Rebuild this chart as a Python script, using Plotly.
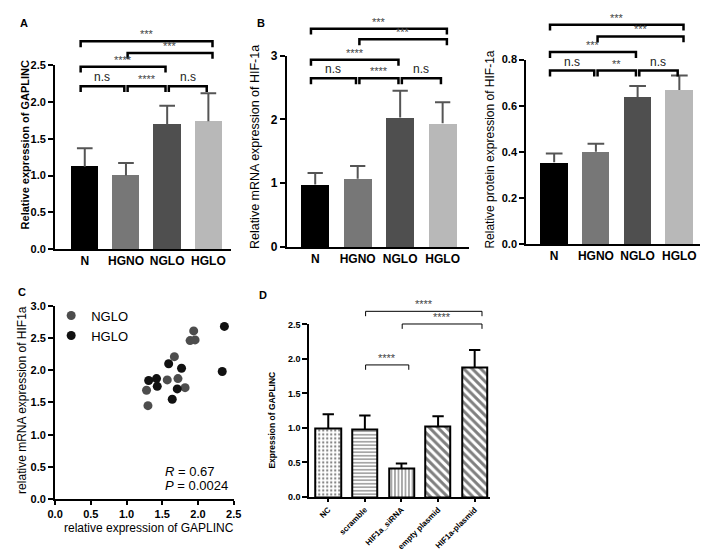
import plotly.graph_objects as go

W, H = 709, 554
FONT = "Liberation Sans, Arial, sans-serif"


def fx(px):
    return px / W


def fy(py):
    return 1 - py / H


# ---------------- data ----------------
groups = ["N", "HGNO", "NGLO", "HGLO"]
bar_colors = ["#000000", "#777777", "#4f4f4f", "#b8b8b8"]

gaplinc_mean = [1.12, 1.00, 1.69, 1.74]
gaplinc_err = [0.25, 0.17, 0.26, 0.38]

mrna_mean = [0.98, 1.07, 2.03, 1.94]
mrna_err = [0.18, 0.20, 0.42, 0.33]

protein_mean = [0.355, 0.400, 0.638, 0.668]
protein_err = [0.038, 0.035, 0.047, 0.063]

nglo_x = [1.28, 1.30, 1.57, 1.67, 1.72, 1.82, 1.89, 1.94, 1.96]
nglo_y = [1.69, 1.45, 1.85, 2.21, 1.87, 1.73, 2.46, 2.61, 2.47]
hglo_x = [1.31, 1.42, 1.43, 1.59, 1.64, 1.71, 1.77, 2.34, 2.37]
hglo_y = [1.84, 1.87, 1.75, 2.10, 1.55, 1.71, 2.03, 1.98, 2.68]

d_groups = ["NC", "scramble", "HIF1a_siRNA", "empty plasmid", "HIF1a-plasmid"]
d_mean = [1.00, 0.98, 0.41, 1.02, 1.88]
d_err = [0.20, 0.20, 0.075, 0.15, 0.25]
d_patterns = [".", "-", "|", "\\", "\\"]

# significance brackets: (group i, group j, label)
sig_a = [(0, 3, "***"), (1, 3, "***"), (0, 2, "****"), (0, 1, "n.s"), (1, 2, "****"), (2, 3, "n.s")]
sig_b = [(0, 3, "***"), (1, 3, "***"), (0, 2, "****"), (0, 1, "n.s"), (1, 2, "****"), (2, 3, "n.s")]
sig_p = [(0, 3, "***"), (1, 3, "***"), (0, 2, "***"), (0, 1, "n.s"), (1, 2, "**"), (2, 3, "n.s")]
sig_d = [(1, 4, "****"), (2, 4, "****"), (1, 2, "****")]

# bracket line heights in pixels from top (layout)
lev_a = [27, 39, 53, 73, 73, 73]
lev_b = [14, 25, 46, 65, 65, 65]
lev_p = [10, 22, 38, 57, 57, 57]
lev_d = [304, 317, 359]

fig = go.Figure()


def err_lines(means, errs, cap):
    xs, ys = [], []
    for i, (m, e) in enumerate(zip(means, errs)):
        xs += [i, i, None, i - cap, i + cap, None]
        ys += [m, m + e, None, m + e, m + e, None]
    return xs, ys


def add_bar_panel(xa, ya, means, errs, cap, colors, ecolor):
    n = len(means)
    fig.add_trace(go.Bar(x=list(range(n)), y=means, width=0.66,
                         marker=dict(color=colors, line=dict(width=0)),
                         xaxis=xa, yaxis=ya, showlegend=False, hoverinfo="skip"))
    ex, ey = err_lines(means, errs, cap)
    fig.add_trace(go.Scatter(x=ex, y=ey, mode="lines", line=dict(color=ecolor, width=2),
                             xaxis=xa, yaxis=ya, showlegend=False, hoverinfo="skip"))


add_bar_panel("x", "y", gaplinc_mean, gaplinc_err, 0.19, bar_colors, "#555555")
add_bar_panel("x2", "y2", mrna_mean, mrna_err, 0.18, bar_colors, "#555555")
add_bar_panel("x3", "y3", protein_mean, protein_err, 0.2, bar_colors, "#555555")

# panel C scatter
fig.add_trace(go.Scatter(x=nglo_x, y=nglo_y, mode="markers", name="NGLO",
                         marker=dict(color="#4d4d4d", size=9),
                         xaxis="x4", yaxis="y4", hoverinfo="skip"))
fig.add_trace(go.Scatter(x=hglo_x, y=hglo_y, mode="markers", name="HGLO",
                         marker=dict(color="#111111", size=9),
                         xaxis="x4", yaxis="y4", hoverinfo="skip"))

# panel D
fig.add_trace(go.Bar(x=list(range(len(d_mean))), y=d_mean, width=0.69,
                     marker=dict(color="white", line=dict(color="black", width=2),
                                 pattern=dict(shape=d_patterns, fgcolor="black", bgcolor="white",
                                              size=[4, 3.5, 3.5, 6, 6],
                                              solidity=[0.25, 0.35, 0.35, 0.5, 0.5])),
                     xaxis="x5", yaxis="y5", showlegend=False, hoverinfo="skip"))
ex, ey = err_lines(d_mean, d_err, 0.155)
fig.add_trace(go.Scatter(x=ex, y=ey, mode="lines", line=dict(color="black", width=2),
                         xaxis="x5", yaxis="y5", showlegend=False, hoverinfo="skip"))


def brackets(xref, specs, levels, lw, drop, last, mode="ab"):
    for (i, j, label), ypx in zip(specs, levels):
        if mode == "ab":
            x0 = i - 0.1 if i == 0 else i + 0.04
            x1 = j + 0.1 if (j == last and j - i > 1) else j - 0.04
        else:
            x0 = i + 0.02
            x1 = j + 0.2
        path = (f"M{x0},{fy(ypx + drop)} L{x0},{fy(ypx)} L{x1},{fy(ypx)} L{x1},{fy(ypx + drop)}")
        fig.add_shape(type="path", xref=xref, yref="paper", path=path,
                      line=dict(color="black", width=lw))
        is_ns = label == "n.s"
        fig.add_annotation(x=(x0 + x1) / 2, y=fy(ypx - (0 if is_ns else -1)), xref=xref, yref="paper",
                           text=label, showarrow=False, xanchor="center", yanchor="bottom",
                           font=dict(family=FONT, size=12 if is_ns else 11,
                                     color="#222" if is_ns else "#444"))


brackets("x", sig_a, lev_a, 2.5, 6, 3)
brackets("x2", sig_b, lev_b, 2.5, 6, 3)
brackets("x3", sig_p, lev_p, 2.5, 6, 3)
brackets("x5", sig_d, lev_d, 1, 5, 4, mode="d")

base_axis = dict(showline=True, linecolor="black", linewidth=2, showgrid=False,
                 zeroline=False, fixedrange=True, ticks="outside", ticklen=5,
                 tickwidth=2, tickcolor="black")


def xcat(domain_px, rng, labels, anchor, size=12, angle=0, ticks=""):
    d = dict(base_axis)
    d.update(domain=[fx(domain_px[0]), fx(domain_px[1])], range=rng, tickmode="array",
             tickvals=list(range(len(labels))), ticktext=labels, ticks=ticks, ticklen=3,
             tickangle=angle, anchor=anchor,
             tickfont=dict(family=FONT, size=size, color="black", weight="bold"))
    return d


def ylin(domain_px, rng, dtick, fmt, anchor, size=11):
    d = dict(base_axis)
    d.update(domain=[fy(domain_px[1]), fy(domain_px[0])], range=rng, dtick=dtick,
             tick0=0, tickformat=fmt, anchor=anchor,
             tickfont=dict(family=FONT, size=size, color="black", weight="bold"))
    return d


xc = dict(base_axis)
xc.update(domain=[fx(40), fx(222.7)], range=[0, 2.5], dtick=0.5, tick0=0, tickformat=".1f",
          anchor="y4", ticklen=4,
          tickfont=dict(family=FONT, size=11, color="black", weight="bold"))

fig.update_layout(
    width=W, height=H, margin=dict(l=0, r=0, t=0, b=0),
    paper_bgcolor="white", plot_bgcolor="white",
    font=dict(family=FONT, color="black"),
    bargap=0,
    xaxis=xcat([40, 220], [-0.72, 3.55], groups, "y"),
    yaxis=ylin([51.7, 240], [0, 2.5], 0.5, ".1f", "x"),
    xaxis2=xcat([277, 463], [-0.67, 3.61], groups, "y2"),
    yaxis2=ylin([41.7, 238], [0, 3], 1, "d", "x2", size=12),
    xaxis3=xcat([522, 700], [-0.67, 3.5], groups, "y3"),
    yaxis3=ylin([45.7, 235], [0, 0.8], 0.2, ".1f", "x3"),
    xaxis4=xc,
    yaxis4=ylin([298.3, 496.7], [0, 3], 0.5, ".1f", "x4"),
    xaxis5=xcat([300, 485], [-0.52, 4.42], d_groups, "y5", size=8, angle=-45, ticks="outside"),
    yaxis5=ylin([317.5, 494.5], [0, 2.5], 0.5, ".1f", "x5", size=9),
    legend=dict(x=fx(36), y=fy(293), xanchor="left", yanchor="top",
                font=dict(family=FONT, size=13, color="black"),
                bgcolor="rgba(0,0,0,0)", tracegroupgap=0, itemsizing="trace"),
    showlegend=True,
)


def ptext(x, y, text, size, bold=False, angle=0, xanchor="center"):
    fig.add_annotation(x=fx(x), y=fy(y), xref="paper", yref="paper", text=text,
                       textangle=angle, showarrow=False, xanchor=xanchor, yanchor="middle",
                       font=dict(family=FONT, size=size, color="black",
                                 weight="bold" if bold else "normal"))


# axis titles
ptext(9, 133, "Relative expression of GAPLINC", 11, bold=True, angle=-90)
ptext(244, 135, "Relative mRNA expression of HIF-1a", 12.5, angle=-90)
ptext(484, 138, "Relative protein expression of HIF-1a", 12, angle=-90)
ptext(6, 395, "relative mRNA expression of HIF1a", 12, angle=-90)
ptext(262, 416, "Expression of GAPLINC", 8.5, bold=True, angle=-90)
ptext(136, 526, "relative expression of GAPLINC", 12)

# correlation statistics
ptext(150, 468, "<i>R</i> = 0.67", 13, xanchor="left")
ptext(150, 483, "<i>P</i> = 0.0024", 13, xanchor="left")

# panel letters
for letter, lx, ly in [("A", 8, 8), ("B", 251, 8), ("C", 6, 284), ("D", 253, 287)]:
    ptext(lx, ly, letter, 11, bold=True)

fig.write_html("out.html")
